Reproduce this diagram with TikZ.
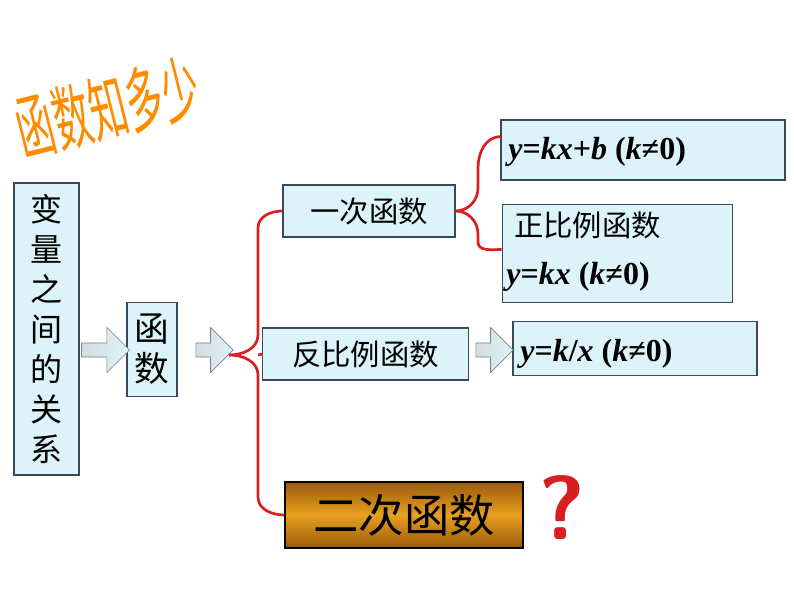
\documentclass[tikz,border=0pt]{standalone}
\usepackage{fontspec}
\setmainfont{Liberation Serif}
\newfontfamily\cjk{Noto Sans CJK SC}
\usetikzlibrary{shapes.arrows}
\definecolor{boxblue}{HTML}{DDF3FA}
\definecolor{edge}{HTML}{3A4A5A}
\definecolor{bred}{HTML}{D81E1E}
\definecolor{gold}{HTML}{E8A020}
\definecolor{dgold}{HTML}{9A5A08}
\tikzset{
 bbox/.style={draw=edge,fill=boxblue,line width=0.8pt,inner sep=0pt},
 barrow/.style={single arrow,draw=edge!70,line width=0.5pt,left color=boxblue!60!gray!60,right color=boxblue,shading angle=90,minimum height=#1,minimum width=34,single arrow head extend=5pt,inner sep=2pt},
 brace/.style={draw=bred,line width=2pt},
 cn/.style={font=\cjk\fontsize{22}{26}\selectfont},
 mth/.style={font=\bfseries\fontsize{24}{28}\selectfont,inner sep=0pt},
}
\begin{document}
\begin{tikzpicture}[x=0.75pt,y=-0.75pt]
\useasboundingbox (0,0) rectangle (794,596);
% title
\node[rotate=14,yscale=1.9,font=\cjk\fontsize{28}{30}\selectfont,text=orange!90!yellow] (title) at (108,108) {函数知多少};
% boxes
\node[bbox,minimum width=48.75pt,minimum height=219pt,align=center,font=\cjk\fontsize{24}{30}\selectfont] (rel) at (46.5,329) {变\\量\\之\\间\\的\\关\\系};
\node[bbox,minimum width=37.5pt,minimum height=71pt,align=center,font=\cjk\fontsize{26}{30}\selectfont] (fn) at (152,349.5) {函\\数};
\node[barrow=36pt] (a1) at (102,350) {};
\node[barrow=28pt] (a2) at (211,350) {};
\node[bbox,minimum width=129pt,minimum height=39pt,cn] (lin) at (369,211) {一次函数};
\node[bbox,minimum width=154pt,minimum height=39pt,cn] (inv) at (365.5,354) {反比例函数};
\node[draw=black,line width=0.8pt,minimum width=178.5pt,minimum height=49.5pt,top color=dgold,bottom color=dgold,middle color=gold,font=\cjk\fontsize{34}{38}\selectfont,inner sep=0pt] (quad) at (404,515) {二次函数};
\node[bbox,minimum width=213pt,minimum height=45pt] (b1) at (643,150) {};
\node[mth,anchor=west] (b1t) at (508,152) {\textit{y}=\textit{kx}+\textit{b} (\textit{k}≠0)};
\node[bbox,minimum width=173pt,minimum height=73pt] (b2) at (617.5,253.5) {};
\node[anchor=north west,cn,inner sep=0pt] (b2t) at (514,212) {正比例函数};
\node[anchor=north west,mth] (b2m) at (506,262) {\textit{y}=\textit{kx} (\textit{k}≠0)};
\node[bbox,minimum width=183pt,minimum height=40pt] (b3) at (635,348.5) {};
\node[mth,anchor=west] (b3t) at (520,354) {\textit{y}=\textit{k}/\textit{x} (\textit{k}≠0)};
\node[barrow=28pt] (a3) at (491,350) {};
\node[text=bred,font=\sffamily\bfseries\fontsize{68}{70}\selectfont] (q) at (562,508) {?};
% braces
\draw[brace] (lin.west) to[out=180,in=90] (258,228) -- (258,335) to[out=-90,in=0] (229,355) coordinate (mid);
\draw[brace] (mid) to[out=0,in=90] (258,375) -- (258,497) to[out=-90,in=180] (quad.west);
\draw[brace] (258,355) -- (inv.west);
\draw[brace] (lin.east) to[out=0,in=-90] (478,188) -- (478,168) to[out=90,in=180] ([yshift=10]b1.west);
\draw[brace] (lin.east) to[out=0,in=90] (478,234) -- (478,242) to[out=-90,in=180] ([yshift=3]b2.west);
\end{tikzpicture}
\end{document}
